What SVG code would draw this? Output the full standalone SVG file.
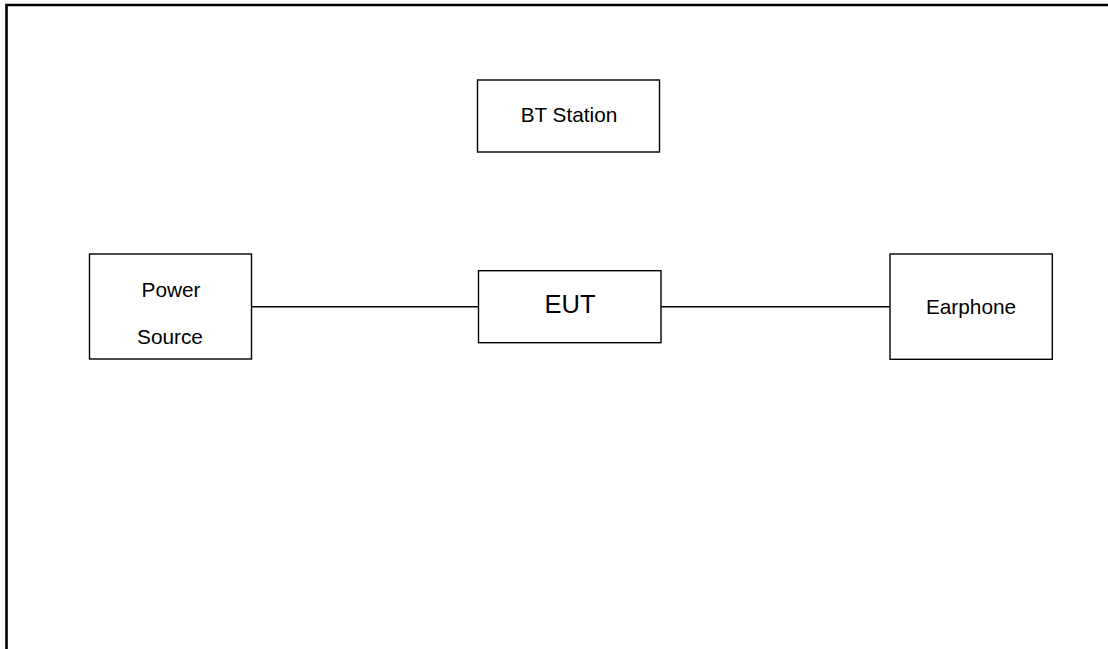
<svg xmlns="http://www.w3.org/2000/svg" width="1108" height="649" viewBox="0 0 1108 649">
<style>
.box{fill:#fff;stroke:#000;stroke-width:1.4}
.lbl{font-family:"Liberation Sans",Arial,sans-serif;font-size:20.8px;fill:#000;text-anchor:middle}
.big{font-size:25.5px}
.wire{stroke:#000;stroke-width:1.5;fill:none}
</style>
<rect x="0" y="0" width="1108" height="649" fill="#fff"/>
<path d="M6.5,649 V5 H1110" fill="none" stroke="#000" stroke-width="2.6"/>
<g id="connectors">
<line class="wire" x1="251.5" y1="306.7" x2="478.5" y2="306.7"/>
<line class="wire" x1="661" y1="306.7" x2="890" y2="306.7"/>
</g>
<g id="bt-station">
<rect class="box" x="477.5" y="80" width="182" height="72"/>
<text class="lbl" x="569" y="122.3">BT Station</text>
</g>
<g id="power-source">
<rect class="box" x="89.5" y="254" width="162" height="105"/>
<text class="lbl" x="171" y="296.7">Power</text>
<text class="lbl" x="170" y="344">Source</text>
</g>
<g id="eut">
<rect class="box" x="478.5" y="270.7" width="182.5" height="72"/>
<text class="lbl big" x="570" y="313.3">EUT</text>
</g>
<g id="earphone">
<rect class="box" x="890" y="254" width="162.3" height="105.3"/>
<text class="lbl" x="971" y="314">Earphone</text>
</g>
</svg>
